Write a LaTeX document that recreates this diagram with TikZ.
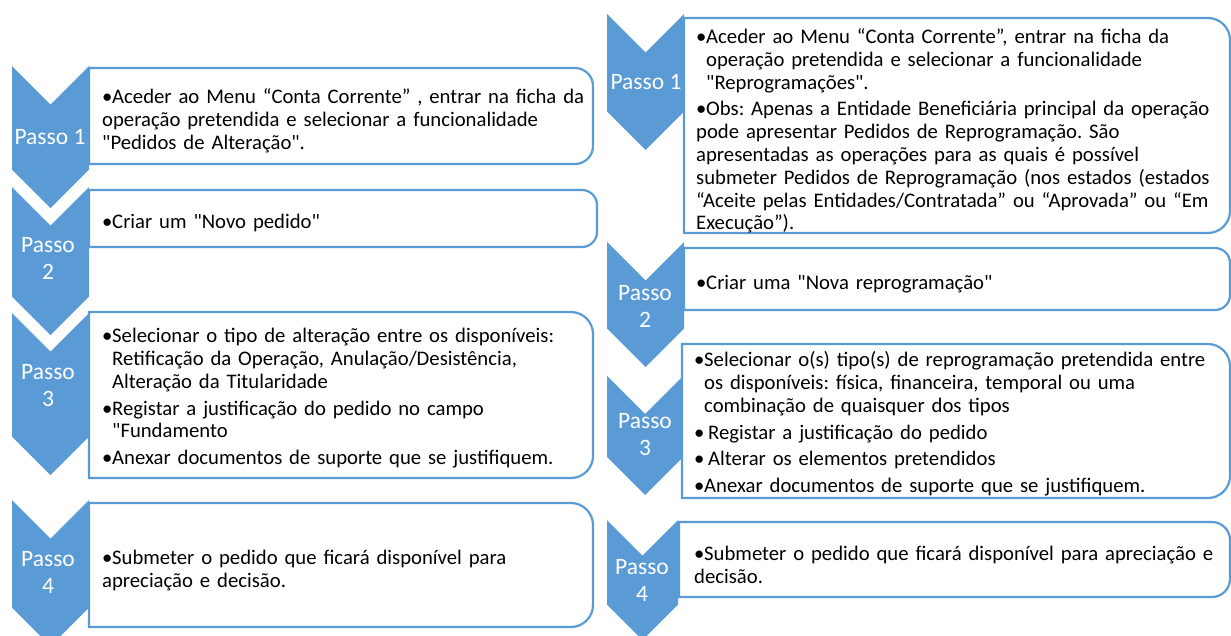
\documentclass[tikz,border=0pt]{standalone}
\usepackage{fontspec}
\setmainfont{Carlito}[Ligatures=TeXOff]
\definecolor{stepblue}{RGB}{91,155,213}
\usetikzlibrary{positioning}
\frenchspacing

% chevron: centre x, half width, top y, tip y
\newcommand{\chevshape}[4]{%
  \fill[stepblue] (#1-#2,#3) -- (#1,#3+#2) -- (#1+#2,#3) -- (#1+#2,#4-#2) -- (#1,#4) -- (#1-#2,#4-#2) -- cycle;}
% box with rounded right corners: left, top, right, bottom, radius
\newcommand{\roundbox}[5]{%
  \draw[boxline] (#1,#2) -- (#3-#5,#2) .. controls (#3-0.45*#5,#2) and (#3,#2+0.45*#5) .. (#3,#2+#5)
    -- (#3,#4-#5) .. controls (#3,#4-0.45*#5) and (#3-0.45*#5,#4) .. (#3-#5,#4) -- (#1,#4) -- cycle;}
% bullet paragraph
\newcommand{\bpt}[1]{\par\hangindent=10pt\hangafter=1\noindent\makebox[10pt][l]{•}#1}

\begin{document}
\begin{tikzpicture}[x=1pt, y=-1pt,
    boxline/.style={draw=stepblue, line width=2.2pt, fill=white},
    steptxt/.style={text=white, align=center, inner sep=0pt, font=\fontsize{23.5}{27}\selectfont},
    bodytxt/.style={anchor=west, align=left, inner sep=0pt, text width=540pt,
      font=\fontsize{20.7}{22.8}\selectfont, execute at begin node={\setlength{\parskip}{4pt}\frenchspacing}}]
    \useasboundingbox (0,0) rectangle (1231,635);
    \clip (0,0) rectangle (1231,635);

    % left column
    \chevshape{50.5}{38.5}{66}{208}
    \chevshape{50.5}{38.5}{187}{335}
    \chevshape{50.5}{38.5}{313}{475}
    \chevshape{50.5}{38.5}{500}{646}
    \roundbox{89}{68}{593}{164}{18}
    \roundbox{89}{190}{597}{247}{15}
    \roundbox{89}{312}{593}{478}{22}
    \roundbox{89}{503}{593}{627}{22}

    \node[steptxt] (lp1) at (50,137) {Passo 1};
    \node[steptxt] (lp2) at (48,258) {Passo\\2};
    \node[steptxt] (lp3) at (48,386) {Passo\\3};
    \node[steptxt] (lp4) at (48,572) {Passo\\4};

    \node[bodytxt] (lt1) at (102,115) {\bpt{Aceder ao Menu “Conta Corrente” , entrar na ficha da\newline
      operação pretendida e selecionar a funcionalidade\newline "Pedidos de Alteração".}};
    \node[bodytxt] (lt2) at (102,217) {\bpt{Criar um "Novo pedido"}};
    \node[bodytxt] (lt3) at (102,392) {\bpt{Selecionar o tipo de alteração entre os disponíveis:\newline
      Retificação da Operação, Anulação/Desistência,\newline Alteração da Titularidade}
      \bpt{Registar a justificação do pedido no campo\newline "Fundamento}
      \bpt{Anexar documentos de suporte que se justifiquem.}};
    \node[bodytxt] (lt4) at (102,564) {\bpt{Submeter o pedido que ficará disponível para\newline apreciação e decisão.}};

    % right column
    \chevshape{645.5}{38.5}{14}{150}
    \chevshape{645.5}{38.5}{242}{367}
    \chevshape{645}{38}{376}{495}
    \chevshape{642.5}{35.5}{520}{640}
    \roundbox{684}{18}{1230}{233}{22}
    \roundbox{684}{248}{1230}{310}{15}
    \roundbox{682}{344}{1230}{498}{22}
    \roundbox{679}{522}{1230}{597}{18}

    \node[steptxt] (rp1) at (646,82) {Passo 1};
    \node[steptxt] (rp2) at (645,306) {Passo\\2};
    \node[steptxt] (rp3) at (645,435) {Passo\\3};
    \node[steptxt] (rp4) at (642,580) {Passo\\4};

    \node[bodytxt] (rt1) at (696,125) {\bpt{Aceder ao Menu “Conta Corrente”, entrar na ficha da\newline
      operação pretendida e selecionar a funcionalidade\newline "Reprogramações".}
      \bpt{Obs: Apenas a Entidade Beneficiária principal da operação\newline
      pode apresentar Pedidos de Reprogramação. São\newline
      apresentadas as operações para as quais é possível\newline
      submeter Pedidos de Reprogramação (nos estados (estados\newline
      “Aceite pelas Entidades/Contratada” ou “Aprovada” ou “Em\newline Execução”).}};
    \node[bodytxt] (rt2) at (696,278) {\bpt{Criar uma "Nova reprogramação"}};
    \node[bodytxt] (rt3) at (694,418) {\bpt{Selecionar o(s) tipo(s) de reprogramação pretendida entre\newline
      os disponíveis: física, financeira, temporal ou uma\newline combinação de quaisquer dos tipos}
      \bpt{\hspace{4pt}Registar a justificação do pedido}
      \bpt{\hspace{4pt}Alterar os elementos pretendidos}
      \bpt{Anexar documentos de suporte que se justifiquem.}};
    \node[bodytxt] (rt4) at (694,559) {\bpt{Submeter o pedido que ficará disponível para apreciação e\newline decisão.}};
\end{tikzpicture}
\end{document}
